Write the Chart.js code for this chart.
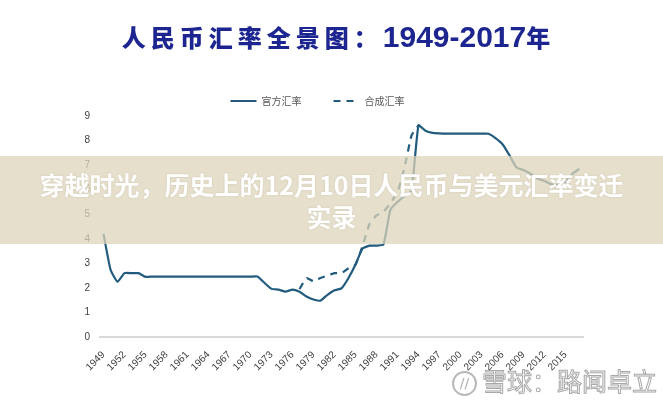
<!DOCTYPE html>
<html>
<head>
<meta charset="utf-8">
<script src="https://cdn.jsdelivr.net/npm/chart.js@4"></script>
<style>
  body { margin: 0; background: #fff; }
  #wrap { position: relative; width: 663px; height: 400px; background: #fff; overflow: hidden; }
  #title { position: absolute; left: 0; width: 672px; top: 19px; text-align: center; color: #1d2590; white-space: nowrap; }
  #title .cn { font-family: "Noto Sans CJK SC"; font-weight: 900; font-size: 24px; letter-spacing: 5px; }
  #title .yr { font-family: "Liberation Sans Narrow", "Liberation Sans"; font-weight: bold; font-size: 30px; }
  #title .nian { font-family: "Noto Sans CJK SC"; font-weight: 900; font-size: 24px; }
  #banner { position: absolute; left: 0; top: 156px; width: 663px; height: 88px; background: rgba(222,212,186,0.75);
            color: #fff; font-family: "Noto Sans CJK SC"; font-weight: bold; font-size: 25px; line-height: 32px;
            text-align: center; padding-top: 12px; box-sizing: border-box; text-shadow: 0 0 2px rgba(150,140,120,0.35); }
  #mark { position: absolute; left: 452px; top: 362px; white-space: nowrap; font-family: "Noto Sans CJK SC"; font-size: 25px;
          color: #fff; -webkit-text-stroke: 1px #a8a8a8; }
  #mark .logo { display: inline-block; width: 21px; height: 21px; border: 2px solid #b8b8b8; border-radius: 50%;
                font-size: 14px; line-height: 21px; text-align: center; vertical-align: 3px; margin-right: 5px;
                -webkit-text-stroke: 0; color: #b0b0b0; font-family: "DejaVu Sans"; }
</style>
</head>
<body>
<div id="wrap">
  <canvas id="chart" width="663" height="400"></canvas>
  <div id="title"><span class="cn">人民币汇率全景图：</span><span class="yr">1949-2017</span><span class="nian">年</span></div>
  <div id="banner">穿越时光，历史上的12月10日人民币与美元汇率变迁<br>实录</div>
  <div id="mark"><span class="logo">//</span>雪球：路闻卓立</div>
</div>
<script>
// years 1949 - 2017
const years = [];
for (let y = 1949; y <= 2017; y++) years.push(String(y));

// tick labels shown on the x axis (every third year)
const xTickLabels = ["1949", "1952", "1955", "1958", "1961", "1964", "1967", "1970", "1973", "1976", "1979",
  "1982", "1985", "1988", "1991", "1994", "1997", "2000", "2003", "2006", "2009", "2012", "2015"];

const yTicks = [0, 1, 2, 3, 4, 5, 6, 7, 8, 9];

// 官方汇率 (CNY per USD)
const officialRate = [
  4.2, 2.75, 2.25, 2.6, 2.6, 2.6, 2.45, 2.46, 2.46, 2.46,          // 1949-1958
  2.46, 2.46, 2.46, 2.46, 2.46, 2.46, 2.46, 2.46, 2.46, 2.46,      // 1959-1968
  2.46, 2.46, 2.46, 2.2, 1.96, 1.93, 1.85, 1.93, 1.84, 1.65,       // 1969-1978
  1.53, 1.48, 1.72, 1.9, 1.98, 2.4, 2.95, 3.6, 3.72, 3.72,         // 1979-1988
  3.77, 5.2, 5.5, 5.75, 5.95, 8.62, 8.4, 8.31, 8.29, 8.28,         // 1989-1998
  8.28, 8.28, 8.28, 8.28, 8.28, 8.28, 8.1, 7.85, 7.4, 6.9,         // 1999-2008
  6.8, 6.65, 6.45, 6.35, 6.22, 6.2, 6.32, 6.65, 6.85              // 2009-2017
];

// 合成汇率, only 1977 - 1994
const syntheticRate = [
  null, null, null, null, null, null, null, null, null, null,      // 1949-1958
  null, null, null, null, null, null, null, null, null, null,      // 1959-1968
  null, null, null, null, null, null, null, null, 1.95, 2.4,       // 1969-1978
  2.27, 2.4, 2.5, 2.6, 2.6, 2.8, 2.95, 3.7, 4.6, 4.95,             // 1979-1988
  5.1, 5.45, 5.9, 6.9, 8.2, 8.62, null, null, null, null,          // 1989-1998
  null, null, null, null, null, null, null, null, null, null,      // 1999-2008
  null, null, null, null, null, null, null, null, null             // 2009-2017
];

const lineColor = "#215b7d";
const tickFont = { family: "Liberation Sans", size: 10 };

const ctx = document.getElementById("chart").getContext("2d");
new Chart(ctx, {
  type: "line",
  data: {
    labels: years,
    datasets: [
      {
        label: "官方汇率",
        data: officialRate,
        borderColor: lineColor,
        backgroundColor: lineColor,
        borderWidth: 2.2,
        pointRadius: 0,
        tension: 0.15
      },
      {
        label: "合成汇率",
        data: syntheticRate,
        borderColor: lineColor,
        backgroundColor: lineColor,
        borderWidth: 2.2,
        borderDash: [7, 6],
        pointRadius: 0,
        tension: 0.15
      }
    ]
  },
  options: {
    responsive: false,
    animation: false,
    layout: { padding: { left: 52, right: 80, top: 64, bottom: 0 } },
    plugins: {
      tooltip: { enabled: false },
      legend: {
        position: "top",
        labels: {
          usePointStyle: true,
          pointStyle: "line",
          pointStyleWidth: 26,
          padding: 32,
          color: "#595959",
          font: { family: "Noto Sans CJK SC", size: 10 },
          // point style legends ignore the dataset dash, so copy it over
          generateLabels: (chart) => {
            const items = Chart.defaults.plugins.legend.labels.generateLabels(chart);
            items.forEach(item => {
              const ds = chart.data.datasets[item.datasetIndex];
              item.lineDash = ds.borderDash || [];
              item.lineWidth = 2;
              item.strokeStyle = ds.borderColor;
            });
            return items;
          }
        }
      }
    },
    scales: {
      x: {
        offset: true,
        grid: { display: false, drawTicks: false },
        border: { display: true, color: "#d9d9d9", width: 2 },
        ticks: {
          autoSkip: false,
          maxRotation: 45,
          minRotation: 45,
          padding: 12,
          color: "#404040",
          font: tickFont,
          callback: function (value) {
            const lab = this.getLabelForValue(value);
            return xTickLabels.includes(lab) ? lab : "";
          }
        },
        afterFit: (scale) => { scale.height = 63; }
      },
      y: {
        min: 0,
        max: 9,
        grid: { display: false, drawTicks: false },
        border: { display: false },
        afterBuildTicks: (scale) => { scale.ticks = yTicks.map(v => ({ value: v })); },
        ticks: { padding: 10, color: "#404040", font: tickFont },
        afterFit: (scale) => { scale.width = 48; }
      }
    }
  }
});
</script>
</body>
</html>
